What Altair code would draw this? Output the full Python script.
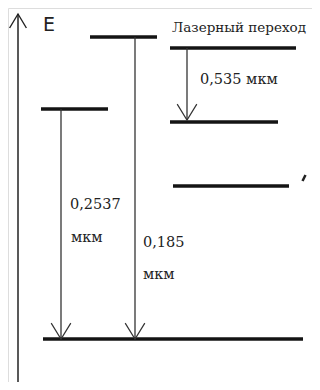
import altair as alt
import pandas as pd

# Energy levels (arbitrary units, ground = 0) and their horizontal extents
level_names = ["Hg 6³P₁", "upper", "laser_up", "laser_low", "extra", "ground"]
level_energy = [230, 302, 291, 217, 153, 0]
level_x1 = [41, 90, 170, 170, 173, 43]
level_x2 = [108, 157, 296, 278, 289, 303]

# Transitions (downward arrows)
trans_x = [61, 135, 187]
trans_from = [230, 302, 291]
trans_to = [0, 0, 219]

# Text labels
label_text = ["Лазерный переход", "0,535 мкм", "0,2537", "мкм", "0,185", "мкм"]
label_x = [172, 200, 70, 71, 143, 143]
label_e = [311, 259, 134, 101, 96, 64]
label_size = [13.5, 14.5, 14.5, 14.5, 14.5, 14.5]

axis_x = [18]
axis_bottom = [-43]
axis_top = [325]

W, H = 304, 374
xs = alt.Scale(domain=[8, 312])
ys = alt.Scale(domain=[-43, 331])
X = lambda f: alt.X(f, type="quantitative", scale=xs, axis=None)
Y = lambda f: alt.Y(f, type="quantitative", scale=ys, axis=None)

levels = pd.DataFrame({"name": level_names, "e": level_energy, "x1": level_x1, "x2": level_x2})
trans = pd.DataFrame({"x": trans_x, "e1": trans_from, "e2": trans_to})
labels = pd.DataFrame({"t": label_text, "x": label_x, "e": label_e, "s": label_size})
axis_df = pd.DataFrame({"x": axis_x, "e1": axis_bottom, "e2": axis_top})

SERIF = "DejaVu Serif"

level_layer = alt.Chart(levels).mark_rule(strokeWidth=3.5, color="#141414").encode(
    x=X("x1"), x2="x2", y=Y("e"))

trans_layer = alt.Chart(trans).mark_rule(strokeWidth=1.3, color="#333").encode(
    x=X("x"), y=Y("e1"), y2="e2")

head_layer = alt.Chart(trans).mark_point(
    shape="M -0.62 -1 L 0 0 L 0.62 -1", filled=False, size=1000,
    strokeWidth=1.2, color="#333", opacity=1).encode(x=X("x"), y=Y("e2"))

axis_layer = alt.Chart(axis_df).mark_rule(strokeWidth=1.5, color="#222").encode(
    x=X("x"), y=Y("e1"), y2="e2")

axis_head = alt.Chart(axis_df).mark_point(
    shape="M -0.6 1 L 0 0 L 0.6 1", filled=False, size=784,
    strokeWidth=1.4, color="#222", opacity=1).encode(x=X("x"), y=Y("e2"))

e_label = alt.Chart(pd.DataFrame({"t": ["E"], "x": [43], "e": [314]})).mark_text(
    font="DejaVu Sans", fontSize=19, align="left", baseline="middle", color="#222"
).encode(x=X("x"), y=Y("e"), text="t:N")

text_layer = alt.Chart(labels).mark_text(
    font=SERIF, align="left", baseline="middle", color="#222").encode(
    x=X("x"), y=Y("e"), text="t:N",
    size=alt.Size("s:Q", scale=None, legend=None))

dot_layer = alt.Chart(pd.DataFrame({"x": [304], "e": [161]})).mark_point(
    shape="M 0.5 -1 L -0.5 1", filled=False, size=36, strokeWidth=2.5,
    color="#222", opacity=1).encode(x=X("x"), y=Y("e"))

chart = alt.layer(axis_layer, axis_head, level_layer, trans_layer, head_layer,
                  text_layer, e_label, dot_layer).properties(
    width=W, height=H, padding=0, autosize=alt.AutoSizeParams(type="none")
).configure_view(stroke=None).configure(background="white")

chart.save("out.html", embed_options={"renderer": "svg", "actions": False})
